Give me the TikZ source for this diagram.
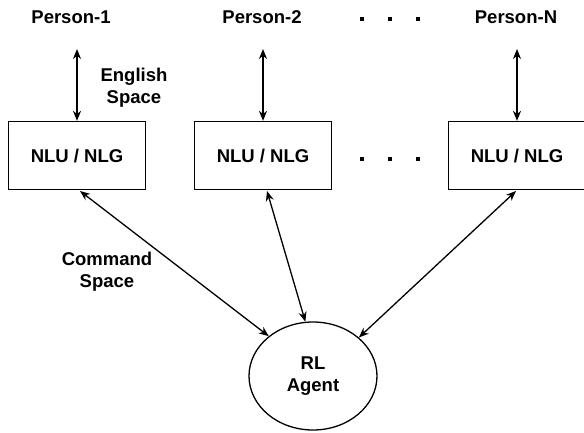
\documentclass[tikz,border=0pt]{standalone}
\usepackage{fontspec}
\setmainfont{Liberation Sans}
\usetikzlibrary{arrows.meta,shapes.geometric}
\begin{document}
\begin{tikzpicture}[x=1pt,y=-1pt,
  lbl/.style={font=\fontsize{18.5}{22}\selectfont\bfseries, align=center, inner sep=0},
  boxn/.style={draw, line width=1.3pt, minimum width=137pt, minimum height=68pt, font=\fontsize{18.5}{22}\selectfont\bfseries},
  conn/.style={line width=1.3pt, {Stealth[length=10pt,width=8pt]}-{Stealth[length=10pt,width=8pt]}},
  dotn/.style={fill, minimum size=4.5pt, inner sep=0}]
\useasboundingbox (0,0) rectangle (584,432);
\node[lbl] (p1) at (71,17) {Person-1};
\node[lbl] (p2) at (262,17) {Person-2};
\node[lbl] (pn) at (516,17) {Person-N};
\node[dotn] (d1) at (362,19) {};
\node[dotn] (d2) at (390,19) {};
\node[dotn] (d3) at (418,19) {};
\node[boxn] (b1) at (77,155.5) {NLU / NLG};
\node[boxn] (b2) at (263,155.5) {NLU / NLG};
\node[boxn] (b3) at (517,155.5) {NLU / NLG};
\node[dotn] (m1) at (362,159) {};
\node[dotn] (m2) at (390,159) {};
\node[dotn] (m3) at (418,159) {};
\node[draw, ellipse, line width=1.3pt, minimum width=128pt, minimum height=108pt, lbl] (rl) at (313,376) {RL\\Agent};
\coordinate (a1) at (77,49);
\coordinate (a2) at (263,49);
\coordinate (a3) at (517,49);
\draw[conn] (a1) -- (b1.north -| a1);
\draw[conn] (a2) -- (b2.north -| a2);
\draw[conn] (a3) -- (b3.north -| a3);
\node[lbl] (es) at (134,88) {English\\Space};
\node[lbl] (cs) at (107,272) {Command\\Space};
\draw[conn] (80,191) -- (rl.138);
\draw[conn] (267,191) -- (rl.98);
\draw[conn] (516,191) -- (rl.40);
\end{tikzpicture}
\end{document}
